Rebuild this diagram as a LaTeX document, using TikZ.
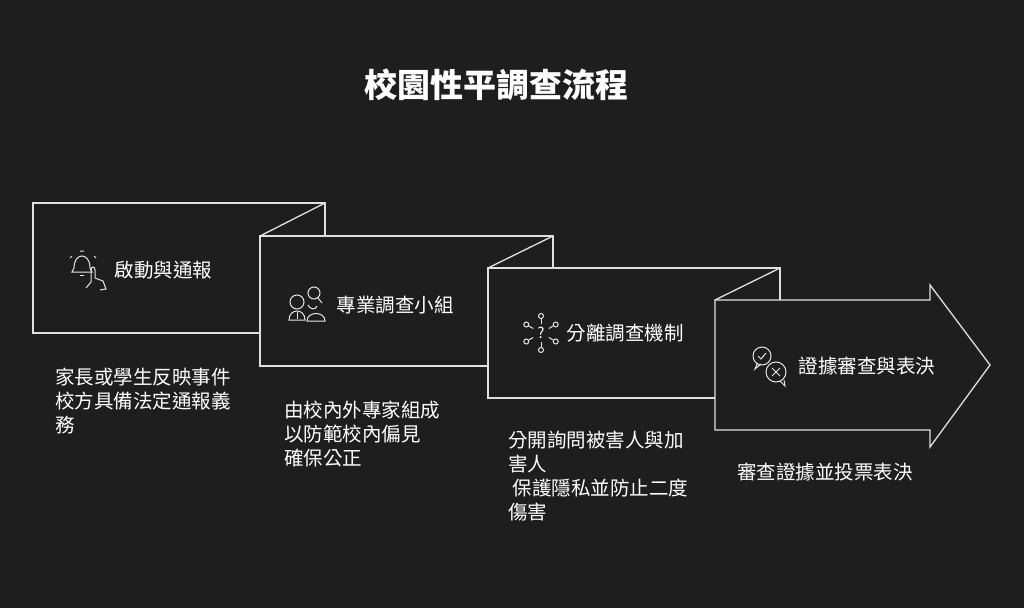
\documentclass[tikz,border=0pt]{standalone}
\usepackage{fontspec}
\setmainfont{Noto Sans CJK TC}
\begin{document}
\begin{tikzpicture}[x=1pt,y=-1pt,
  panel/.style={draw=white!88!black,line width=1.3pt,fill=bg},
  lbl/.style={text=white,font=\fontsize{19.5}{22}\selectfont,anchor=west},
  desc/.style={text=white,font=\fontsize{19.5}{24}\selectfont,anchor=north west,align=left,inner sep=0pt},
  ic/.style={draw=white!90!black,line width=1pt}]
\definecolor{bg}{HTML}{1E1E1E}
\fill[bg] (0,0) rectangle (1024,608);
\useasboundingbox (0,0) rectangle (1024,608);
\node[text=white,font=\bfseries\fontsize{33}{36}\selectfont] (title) at (496,85) {校園性平調查流程};
\draw[panel] (33,203) rectangle (325,333);
\draw[panel] (325,203) -- (260,236);
\draw[panel] (260,236) rectangle (553,366);
\draw[panel] (553,236) -- (488,268);
\draw[panel] (488,268) rectangle (780,398);
\draw[panel] (780,268) -- (715,300);
\draw[panel] (715,300) -- (930,300) -- (930,285) -- (990,365) -- (930,447) -- (930,430) -- (715,430) -- cycle;
\node[lbl] (l1) at (111,270) {啟動與通報};
\node[lbl] (l2) at (333,305) {專業調查小組};
\node[lbl] (l3) at (563,333) {分離調查機制};
\node[lbl] (l4) at (795,366) {證據審查與表決};
% icons
\draw[ic] (74,268) .. controls (74,252) and (90,252) .. (90,268) -- (92,272) -- (72,272) -- (74,268);
\draw[ic] (80,275) -- (84,275);
\draw[ic] (70,258) -- (72,256) (94,256) -- (96,258) (80,251) -- (84,251);
\draw[ic] (86,288) -- (91,282) -- (91,270) .. controls (91,266) and (95,266) .. (95,270) -- (95,278) -- (103,281) -- (106,289) -- (100,290);
\draw[ic] (297,302) circle (7);
\draw[ic] (289,320) .. controls (289,308) and (305,308) .. (305,320) -- cycle;
\draw[ic] (297,312) -- (297,319);
\draw[ic] (314,293) circle (6) (318,298) -- (322,303);
\draw[ic] (308,305) .. controls (310,310) and (316,310) .. (317,306);
\draw[ic] (307,321) .. controls (307,311) and (325,311) .. (325,321) -- cycle;
\node[text=white,font=\fontsize{15}{15}\selectfont] (q) at (541,333) {?};
\foreach \a in {30,90,150,210,270,330}{
  \draw[ic] (541,333)+(\a:9) -- +(\a:14);
  \draw[ic] (541,333)+(\a:17) circle (2.5);}
\draw[ic] (762,356) circle (9) (757,364) -- (755,369) -- (761,364);
\draw[ic] (758,356) -- (761,359) -- (766,353);
\draw[ic] (776,372) circle (10) (780,381) -- (785,386) -- (784,380);
\draw[ic] (772,368) -- (780,376) (780,368) -- (772,376);
\node[desc] (d1) at (55,368) {家長或學生反映事件\\校方具備法定通報義\\務};
\node[desc] (d2) at (284,401) {由校內外專家組成\\以防範校內偏見\\確保公正};
\node[desc] (d3) at (508,431) {分開詢問被害人與加\\害人\\\ 保護隱私並防止二度\\傷害};
\node[desc] (d4) at (737,463) {審查證據並投票表決};
\end{tikzpicture}
\end{document}
